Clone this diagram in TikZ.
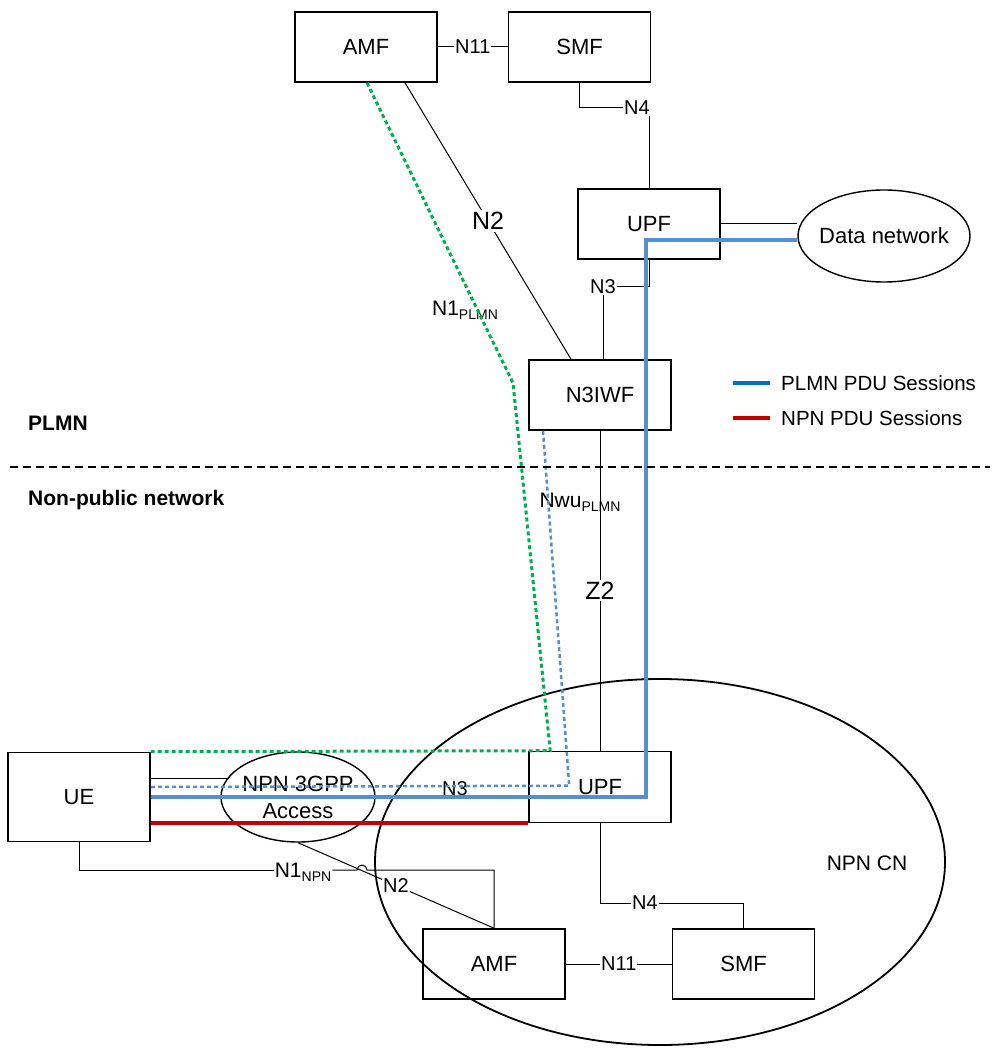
\documentclass[tikz,border=0pt]{standalone}
\usepackage{fontspec}
\setmainfont{Liberation Sans}
\usetikzlibrary{positioning,shapes.geometric}
\definecolor{plmnblue}{RGB}{85,142,213}
\definecolor{legblue}{RGB}{0,112,192}
\definecolor{npnred}{RGB}{192,0,0}
\definecolor{nonegreen}{RGB}{0,176,80}
\newcommand{\sublab}[2]{#1\raisebox{-4pt}[0pt][0pt]{\fontsize{14}{16}\selectfont #2}}

\begin{document}
\begin{tikzpicture}[x=1pt,y=-1pt]
        \tikzset{nfbox/.style={draw, rectangle, line width=1.6pt, align=center, minimum width=142pt, minimum height=70pt, font=\fontsize{22}{27}\selectfont},
        ellnode/.style={draw, ellipse, line width=1.4pt, align=center, inner sep=-8pt, font=\fontsize{22}{27}\selectfont},
        lbl/.style={inner sep=1pt, font=\fontsize{20}{24}\selectfont},
        blbl/.style={inner sep=2pt, fill=white, font=\fontsize{25}{30}\selectfont},
        conn/.style={draw, line width=1pt},
        plmnline/.style={draw, plmnblue, line width=4pt},
        npnline/.style={draw, npnred, line width=4pt},
        n1plmn/.style={draw, nonegreen, line width=3pt, dash pattern=on 4pt off 3pt},
        nwu/.style={draw, plmnblue, line width=2.5pt, dash pattern=on 4pt off 3pt},
        divider/.style={draw, line width=2.5pt, dash pattern=on 8pt off 5pt}
        }
        \useasboundingbox (0,0) rectangle (997,1048);

        % PLMN side
        \node [nfbox] (amf) at (366,47) {AMF};
        \node [nfbox, right=70pt of amf] (smf) {SMF};
        \node [nfbox] (upf) at (649,224) {UPF};
        \node [ellnode, minimum width=172pt, minimum height=92pt] (dn) at (884,236) {Data network};
        \node [nfbox] (n3iwf) at (600,395) {N3IWF};
        \node [lbl] (n4t) at (637,108) {N4};
        \node [lbl] (n3t) at (603,287) {N3};

        % non-public network side
        \node [ellnode, line width=1.8pt, minimum width=570pt, minimum height=366pt] (npncn) at (660,862) {};
        \node [lbl, font=\fontsize{21}{25}\selectfont] (cnlbl) at (867,863) {NPN CN};
        \node [nfbox, minimum height=89pt] (ue) at (79,797) {UE};
        \node [ellnode, minimum width=154pt, minimum height=90pt] (acc) at (298,797) {NPN 3GPP\\Access};
        \node [nfbox, minimum height=71pt] (upfn) at (600,787) {UPF};
        \node [nfbox] (amfn) at (494,964) {AMF};
        \node [nfbox, right=106pt of amfn] (smfn) {SMF};
        \node [lbl, font=\fontsize{21}{25}\selectfont] (n1npn) at (303,870) {\sublab{N1}{NPN}};
        \node [lbl] (n4n) at (645,903) {N4};
        \node [lbl] (n3n) at (455,789) {N3};
        \node [lbl, font=\fontsize{21}{25}\selectfont] (n1lbl) at (465,308) {\sublab{N1}{PLMN}};
        \node [lbl, font=\fontsize{21}{25}\selectfont] (nwulbl) at (580,500) {\sublab{Nwu}{PLMN}};

        % region labels and legend
        \node [lbl, anchor=west, font=\bfseries\fontsize{21}{25}\selectfont] (plmnlbl) at (27,423) {PLMN};
        \node [lbl, anchor=west, font=\bfseries\fontsize{21}{25}\selectfont] (npnlbl) at (27,500) {Non-public network};
        \node [lbl, anchor=west, font=\fontsize{20.5}{24}\selectfont] (lgplmn) at (780,383) {PLMN PDU Sessions};
        \node [lbl, anchor=west, font=\fontsize{20.5}{24}\selectfont] (lgnpn) at (780,418) {NPN PDU Sessions};

        \coordinate (hop) at (357,870);
        \coordinate (bend) at (513,383);
        \coordinate (ptop) at (646,240);
        \coordinate (pbot) at (646,797);
        \coordinate (divl) at (10,467);
        \coordinate (divr) at (990,467);

%% paths
        \path[conn] (amf) -- node[lbl, fill=white] {N11} (smf);
        \path[conn] (smf.south) |- (n4t.west);
        \path[conn] (n4t.south -| upf.north) -- (upf.north);
        \path[conn] (upf.east) -- (dn.west |- upf.east);
        \path[conn] (upf.south) |- (n3t.east);
        \path[conn] (n3t.south) -- (n3t.south |- n3iwf.north);
        \path[conn] ([xshift=39pt]amf.south) -- node[blbl] {N2} ([xshift=-29pt]n3iwf.north);
        \path[conn] (n3iwf.south) -- node[blbl] {Z2} (n3iwf.south |- upfn.north);

        \path[conn] (acc.165) -- (ue.east |- acc.165);
        \path[conn] (acc.south) -- node[lbl, fill=white] {N2} (amfn.north);
        \path[conn] (ue.south) |- (n1npn.west);
        \path[conn] (n1npn.east) -- (hop) arc[start angle=180, end angle=0, radius=5pt] -| (amfn.north);
        \path[conn] (upfn.south) |- (n4n.west);
        \path[conn] (n4n.east) -| (smfn.north);
        \path[conn] (amfn) -- node[lbl, fill=white] {N11} (smfn);

        \path[n1plmn] ([xshift=1pt]amf.south) -- (bend) -- ([xshift=22pt]upfn.north west) -- (ue.north east);
        \path[nwu] ([xshift=-57pt]n3iwf.south) -- ([xshift=41pt,yshift=-35pt]upfn.north west) -- ([yshift=10pt]ue.east);
        \path[plmnline] (dn.west |- ptop) -- (ptop) -- (pbot) -- (ue.east |- pbot);
        \path[npnline] (ue.east |- upfn.south) -- (upfn.south west);

        \path[divider] (divl) -- (divr);
        \path[draw, legblue, line width=4pt] ([xshift=-47pt]lgplmn.west) -- ([xshift=-10pt]lgplmn.west);
        \path[npnline] ([xshift=-47pt]lgnpn.west) -- ([xshift=-10pt]lgnpn.west);
    \end{tikzpicture}
\end{document}
